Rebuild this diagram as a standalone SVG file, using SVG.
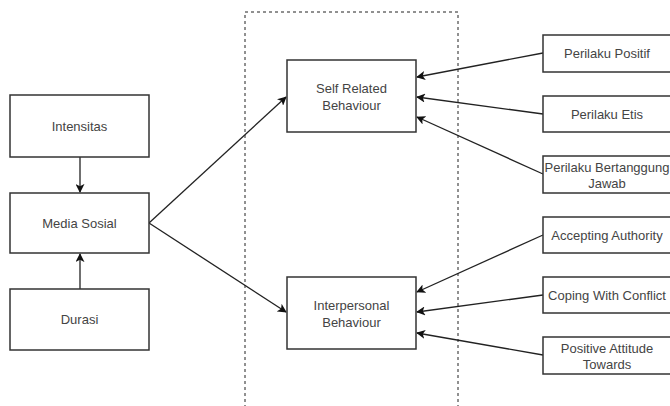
<svg xmlns="http://www.w3.org/2000/svg" width="670" height="406" viewBox="0 0 670 406">
<style>
.box{fill:#fff;stroke:#333;stroke-width:1.5}
.t{font-family:"Liberation Sans",Arial,sans-serif;font-size:13px;fill:#444;text-anchor:middle}
.c{fill:none;stroke:#222;stroke-width:1.3}
</style>
<defs>
<marker id="ah" viewBox="0 0 10 10" refX="9" refY="5" markerWidth="9" markerHeight="9" markerUnits="userSpaceOnUse" orient="auto">
<path d="M0,0 L10,5 L0,10 L2.5,5 Z" fill="#111"/>
</marker>
</defs>
<rect width="670" height="406" fill="#fff"/>
<g id="frame"><rect x="245" y="12" width="213" height="420" fill="none" stroke="#222" stroke-width="1" stroke-dasharray="3,3"/></g>
<g id="connectors">
<line class="c" x1="80" y1="157" x2="80" y2="192" marker-end="url(#ah)"/>
<line class="c" x1="80" y1="289" x2="80" y2="254" marker-end="url(#ah)"/>
<line class="c" x1="149" y1="223" x2="286" y2="97" marker-end="url(#ah)"/>
<line class="c" x1="149" y1="223" x2="286" y2="312" marker-end="url(#ah)"/>
<line class="c" x1="543" y1="53" x2="417" y2="77" marker-end="url(#ah)"/>
<line class="c" x1="543" y1="114" x2="417" y2="97" marker-end="url(#ah)"/>
<line class="c" x1="543" y1="174" x2="417" y2="117" marker-end="url(#ah)"/>
<line class="c" x1="543" y1="235" x2="417" y2="292" marker-end="url(#ah)"/>
<line class="c" x1="543" y1="295" x2="417" y2="312" marker-end="url(#ah)"/>
<line class="c" x1="543" y1="355" x2="417" y2="333" marker-end="url(#ah)"/>
</g>
<g id="intensitas"><rect class="box" x="10" y="95" width="139" height="62"/><text class="t" x="79.5" y="131">Intensitas</text></g>
<g id="media-sosial"><rect class="box" x="10" y="193" width="139" height="60"/><text class="t" x="79.5" y="228">Media Sosial</text></g>
<g id="durasi"><rect class="box" x="10" y="289" width="139" height="61"/><text class="t" x="79.5" y="324">Durasi</text></g>
<g id="self-related"><rect class="box" x="287" y="60" width="129" height="72"/><text class="t" x="351.5" y="93">Self Related</text><text class="t" x="351.5" y="110">Behaviour</text></g>
<g id="interpersonal"><rect class="box" x="287" y="277" width="129" height="72"/><text class="t" x="351.5" y="310">Interpersonal</text><text class="t" x="351.5" y="327">Behaviour</text></g>
<g id="perilaku-positif"><rect class="box" x="543" y="35" width="129" height="37"/><text class="t" x="607" y="58">Perilaku Positif</text></g>
<g id="perilaku-etis"><rect class="box" x="543" y="96" width="129" height="36"/><text class="t" x="607" y="119">Perilaku Etis</text></g>
<g id="perilaku-bertanggung"><rect class="box" x="543" y="156" width="129" height="37"/><text class="t" x="607" y="172">Perilaku Bertanggung</text><text class="t" x="607" y="188">Jawab</text></g>
<g id="accepting"><rect class="box" x="543" y="217" width="129" height="36"/><text class="t" x="607" y="240">Accepting Authority</text></g>
<g id="coping"><rect class="box" x="543" y="277" width="129" height="36"/><text class="t" x="607" y="300">Coping With Conflict</text></g>
<g id="positive-attitude"><rect class="box" x="543" y="337" width="129" height="37"/><text class="t" x="607" y="353">Positive Attitude</text><text class="t" x="607" y="369">Towards</text></g>
</svg>
